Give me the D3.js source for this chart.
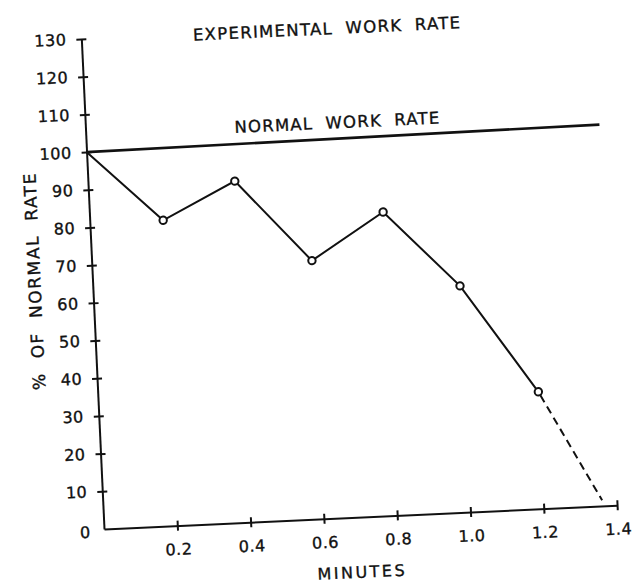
<!DOCTYPE html>
<html>
<head>
<meta charset="utf-8">
<script src="https://cdn.jsdelivr.net/npm/d3@7"></script>
<style>
  html, body { margin: 0; padding: 0; background: #fff; }
  svg { display: block; }
  text { font-family: "DejaVu Sans", sans-serif; fill: #111; stroke: #111; stroke-width: 0.35px; }
</style>
</head>
<body>
<svg id="chart" width="635" height="584"></svg>
<script>
// ---- data ----
const minutes = [0, 0.2, 0.4, 0.6, 0.8, 1.0, 1.2];
const percentOfNormal = [100, 81, 90.5, 68.5, 80.5, 60, 31];
const extrapolatedMinutes = [1.2, 1.36];
const extrapolatedPercent = [31, 1.5];
const normalMinutes = [0, 1.4];
const normalPercent = [100, 101];
const xTicks = [0.2, 0.4, 0.6, 0.8, 1.0, 1.2, 1.4];
const yTicks = [10, 20, 30, 40, 50, 60, 70, 80, 90, 100, 110, 120, 130];
const titleText = "EXPERIMENTAL WORK RATE";
const normalLabel = "NORMAL WORK RATE";
const xTitle = "MINUTES";
const yTitle = "% OF NORMAL RATE";

const svg = d3.select("#chart");
const W = 513.6, H = 490.5;
// the scanned figure is slightly rotated
const g = svg.append("g").attr("transform", "translate(104,529) rotate(-2.65)");

const x = d3.scaleLinear().domain([0, 1.4]).range([0, W]);
const y = d3.scaleLinear().domain([0, 130]).range([0, -H]);

const ink = "#111";

// y axis
const yAxis = d3.axisLeft(y).tickValues(yTicks).tickSize(5).tickPadding(10).tickSizeOuter(0).tickFormat(d3.format("d"));
const yg = g.append("g").call(yAxis);
yg.select(".domain").attr("stroke", ink).attr("stroke-width", 2);
yg.selectAll(".tick line").attr("x1", 5).attr("stroke", ink).attr("stroke-width", 2);
yg.selectAll(".tick text").style("font-size", "16px").style("letter-spacing", "0.5px").attr("fill", ink);
// "0" label at the origin
g.append("text").attr("x", -14).attr("y", y(0) + 3).attr("dy", "0.32em")
  .attr("text-anchor", "end").style("font-size", "16px").text("0");

// x axis
const xAxis = d3.axisBottom(x).tickValues(xTicks).tickSize(5).tickPadding(13).tickSizeOuter(0).tickFormat(d3.format(".1f"));
const xg = g.append("g").call(xAxis);
xg.select(".domain").attr("stroke", ink).attr("stroke-width", 2);
xg.selectAll(".tick line").attr("y1", -5).attr("stroke", ink).attr("stroke-width", 2);
xg.selectAll(".tick text").style("font-size", "16px").style("letter-spacing", "0.5px").attr("fill", ink);

// normal work rate line
const line = d3.line().x(d => x(d[0])).y(d => y(d[1]));
g.append("path")
  .datum(d3.zip(normalMinutes, normalPercent))
  .attr("d", line).attr("fill", "none").attr("stroke", ink).attr("stroke-width", 2.6);

// experimental series
const pts = d3.zip(minutes, percentOfNormal);
g.append("path")
  .datum(pts)
  .attr("d", line).attr("fill", "none").attr("stroke", ink).attr("stroke-width", 2);

g.append("path")
  .datum(d3.zip(extrapolatedMinutes, extrapolatedPercent))
  .attr("d", line).attr("fill", "none").attr("stroke", ink).attr("stroke-width", 2)
  .attr("stroke-dasharray", "8,5").attr("stroke-dashoffset", -4);

g.selectAll("circle.pt")
  .data(pts.slice(1))
  .enter().append("circle")
  .attr("class", "pt")
  .attr("cx", d => x(d[0])).attr("cy", d => y(d[1]))
  .attr("r", 3.7)
  .attr("fill", "#fff").attr("stroke", ink).attr("stroke-width", 2);

// texts
g.append("text")
  .attr("x", 246).attr("y", y(130) + 1)
  .attr("dy", "0.35em")
  .attr("text-anchor", "middle")
  .style("font-size", "16.5px").style("letter-spacing", "1.3px").style("word-spacing", "6px")
  .text(titleText);

g.append("text")
  .attr("x", 252).attr("y", y(100) - 18)
  .attr("dy", "0.35em")
  .attr("text-anchor", "middle")
  .style("font-size", "16.5px").style("letter-spacing", "1.2px").style("word-spacing", "6px")
  .text(normalLabel);

g.append("text")
  .attr("x", 256).attr("y", 55)
  .attr("dy", "0.35em")
  .attr("text-anchor", "middle")
  .style("font-size", "16px").style("letter-spacing", "2.5px")
  .text(xTitle);

g.append("text")
  .attr("transform", `translate(-58, ${y(66.5)}) rotate(-90)`)
  .attr("dy", "0.35em")
  .attr("text-anchor", "middle")
  .style("font-size", "17px").style("letter-spacing", "1.6px").style("word-spacing", "7px")
  .text(yTitle);
</script>
</body>
</html>
